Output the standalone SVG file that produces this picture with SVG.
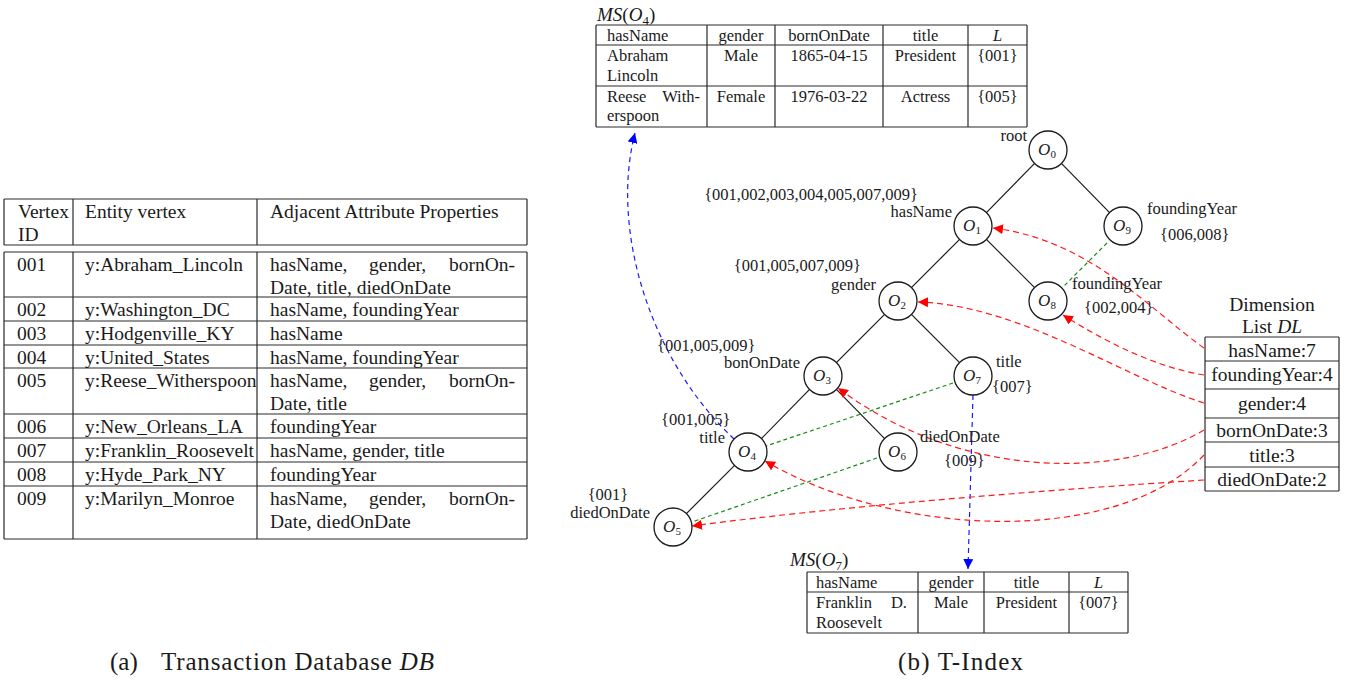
<svg xmlns="http://www.w3.org/2000/svg" width="1357" height="680" viewBox="0 0 1357 680">
  <style>
    text { font-family: "Liberation Serif", "Times New Roman", serif; fill: #1a1a1a; }
    .t20 { font-size: 19.5px; }
    .t16 { font-size: 16.5px; }
    .dl { font-size: 19.5px; text-anchor: middle; }
    .cap { font-size: 25px; }
    .mid { text-anchor: middle; }
    .end { text-anchor: end; }
    .it { font-style: italic; }
    .grid { stroke: #2a2a2a; stroke-width: 1.2; fill: none; }
    .node circle { fill: #fff; stroke: #1a1a1a; stroke-width: 1.3; }
    .node .nm { font-size: 17px; text-anchor: middle; }
    .edge { stroke: #1a1a1a; stroke-width: 1.2; fill: none; }
    .red { stroke: #ff1a1a; stroke-width: 1.2; fill: none; stroke-dasharray: 6 4; }
    .blue { stroke: #1a1aff; stroke-width: 1.2; fill: none; stroke-dasharray: 5 4; }
    .green { stroke: #1a8a1a; stroke-width: 1.2; fill: none; stroke-dasharray: 4 3; }
  </style>
  <defs>
    <marker id="ahRed" markerUnits="userSpaceOnUse" markerWidth="11" markerHeight="10" refX="10" refY="5" orient="auto">
      <path d="M0,0 L10,5 L0,10 z" fill="#ff0000"/>
    </marker>
    <marker id="ahBlue" markerUnits="userSpaceOnUse" markerWidth="11" markerHeight="10" refX="10" refY="5" orient="auto">
      <path d="M0,0 L10,5 L0,10 z" fill="#0000ff"/>
    </marker>
  </defs>

  <rect width="1357" height="680" fill="#ffffff"/>

  <!-- (a) transaction database table -->
  <g id="db-table">
    <path class="grid" d="M4,199 H527 M4,245 H527 M4,252 H527 M4,297 H527 M4,321 H527 M4,345 H527 M4,368 H527 M4,414 H527 M4,438 H527 M4,462 H527 M4,486 H527 M4,539 H527"/>
    <path class="grid" d="M4,199 V245 M73,199 V245 M257,199 V245 M527,199 V245 M4,252 V539 M73,252 V539 M257,252 V539 M527,252 V539"/>
    <g class="t20">
      <text x="18" y="217.5">Vertex</text>
      <text x="18" y="240.5">ID</text>
      <text x="85" y="217.5">Entity vertex</text>
      <text x="270" y="217.5">Adjacent Attribute Properties</text>

      <text x="17" y="270.5">001</text>
      <text x="85" y="270.5">y:Abraham_Lincoln</text>
      <text x="270" y="270.5">hasName,</text>
      <text x="369" y="270.5">gender,</text>
      <text x="515" y="270.5" class="end">bornOn-</text>
      <text x="270" y="293.5">Date, title, diedOnDate</text>

      <text x="17" y="315.5">002</text>
      <text x="85" y="315.5">y:Washington_DC</text>
      <text x="270" y="315.5">hasName, foundingYear</text>

      <text x="17" y="339.5">003</text>
      <text x="85" y="339.5">y:Hodgenville_KY</text>
      <text x="270" y="339.5">hasName</text>

      <text x="17" y="363.5">004</text>
      <text x="85" y="363.5">y:United_States</text>
      <text x="270" y="363.5">hasName, foundingYear</text>

      <text x="17" y="386.5">005</text>
      <text x="85" y="386.5">y:Reese_Witherspoon</text>
      <text x="270" y="386.5">hasName,</text>
      <text x="369" y="386.5">gender,</text>
      <text x="515" y="386.5" class="end">bornOn-</text>
      <text x="270" y="409.5">Date, title</text>

      <text x="17" y="432.5">006</text>
      <text x="85" y="432.5">y:New_Orleans_LA</text>
      <text x="270" y="432.5">foundingYear</text>

      <text x="17" y="456.5">007</text>
      <text x="85" y="456.5">y:Franklin_Roosevelt</text>
      <text x="270" y="456.5">hasName, gender, title</text>

      <text x="17" y="480.5">008</text>
      <text x="85" y="480.5">y:Hyde_Park_NY</text>
      <text x="270" y="480.5">foundingYear</text>

      <text x="17" y="504.5">009</text>
      <text x="85" y="504.5">y:Marilyn_Monroe</text>
      <text x="270" y="504.5">hasName,</text>
      <text x="369" y="504.5">gender,</text>
      <text x="515" y="504.5" class="end">bornOn-</text>
      <text x="270" y="527.5">Date, diedOnDate</text>
    </g>
  </g>

  <!-- materialised set of O4 -->
  <g id="ms-o4">
    <text x="597" y="21" font-size="19px"><tspan class="it">MS</tspan>(<tspan class="it">O</tspan><tspan font-size="13px" dy="4">4</tspan><tspan dy="-4">)</tspan></text>
    <path class="grid" d="M596,25 H1027 M596,45 H1027 M596,86 H1027 M596,127 H1027 M596,25 V127 M707,25 V127 M775,25 V127 M883,25 V127 M968,25 V127 M1027,25 V127"/>
    <g class="t16">
      <text x="607" y="40.5">hasName</text>
      <text x="741" y="40.5" class="mid">gender</text>
      <text x="829" y="40.5" class="mid">bornOnDate</text>
      <text x="925.5" y="40.5" class="mid">title</text>
      <text x="997.5" y="40.5" class="mid it">L</text>

      <text x="607" y="61">Abraham</text>
      <text x="607" y="80.5">Lincoln</text>
      <text x="741" y="61" class="mid">Male</text>
      <text x="829" y="61" class="mid">1865-04-15</text>
      <text x="925.5" y="61" class="mid">President</text>
      <text x="997.5" y="61" class="mid">{001}</text>

      <text x="607" y="101.5">Reese</text>
      <text x="700" y="101.5" class="end">With-</text>
      <text x="607" y="121">erspoon</text>
      <text x="741" y="101.5" class="mid">Female</text>
      <text x="829" y="101.5" class="mid">1976-03-22</text>
      <text x="925.5" y="101.5" class="mid">Actress</text>
      <text x="997.5" y="101.5" class="mid">{005}</text>
    </g>
  </g>

  <!-- materialised set of O7 -->
  <g id="ms-o7">
    <text x="790" y="566" font-size="19px"><tspan class="it">MS</tspan>(<tspan class="it">O</tspan><tspan font-size="13px" dy="4">7</tspan><tspan dy="-4">)</tspan></text>
    <path class="grid" d="M807,572 H1128 M807,592 H1128 M807,633 H1128 M807,572 V633 M918,572 V633 M984,572 V633 M1069,572 V633 M1128,572 V633"/>
    <g class="t16">
      <text x="816" y="587.5">hasName</text>
      <text x="951" y="587.5" class="mid">gender</text>
      <text x="1026.5" y="587.5" class="mid">title</text>
      <text x="1098.5" y="587.5" class="mid it">L</text>

      <text x="816" y="608">Franklin</text>
      <text x="907" y="608" class="end">D.</text>
      <text x="816" y="627.5">Roosevelt</text>
      <text x="951" y="608" class="mid">Male</text>
      <text x="1026.5" y="608" class="mid">President</text>
      <text x="1098.5" y="608" class="mid">{007}</text>
    </g>
  </g>

  <!-- dimension list -->
  <g id="dl">
    <text x="1272" y="311" class="dl">Dimension</text>
    <text x="1272" y="333" class="dl">List <tspan class="it">DL</tspan></text>
    <path class="grid" d="M1205,337 H1339 M1205,361 H1339 M1205,389 H1339 M1205,418 H1339 M1205,442 H1339 M1205,467 H1339 M1205,491 H1339 M1205,337 V491 M1339,337 V491"/>
    <text x="1272" y="357" class="dl">hasName:7</text>
    <text x="1272" y="381" class="dl">foundingYear:4</text>
    <text x="1272" y="410" class="dl">gender:4</text>
    <text x="1272" y="436.5" class="dl">bornOnDate:3</text>
    <text x="1272" y="461.5" class="dl">title:3</text>
    <text x="1272" y="486" class="dl">diedOnDate:2</text>
  </g>

  <!-- tree edges, links and pointers -->
  <g id="connectors">
    <path class="edge" d="M1034.6,163.4 L986.4,212.6"/>
    <path class="edge" d="M1061.4,163.4 L1109.6,212.6"/>
    <path class="edge" d="M959.6,239.4 L911.4,287.6"/>
    <path class="edge" d="M986.4,239.4 L1034.6,287.6"/>
    <path class="edge" d="M884.6,314.4 L836.4,362.6"/>
    <path class="edge" d="M911.4,314.4 L959.6,362.6"/>
    <path class="edge" d="M809.6,389.4 L761.4,438.6"/>
    <path class="edge" d="M836.4,389.4 L884.6,438.6"/>
    <path class="edge" d="M734.6,465.4 L686.4,513.6"/>

    <path class="green" d="M1107,243 L1063,287"/>
    <path class="green" d="M953,383 L766,446"/>
    <path class="green" d="M877,458 L692,522"/>

    <path class="blue" d="M734,439 C650,360 610,230 635,133" marker-end="url(#ahBlue)"/>
    <path class="blue" d="M973,395 L968,569" marker-end="url(#ahBlue)"/>

    <path class="red" d="M1204,348 C1150,310 1090,240 993,228" marker-end="url(#ahRed)"/>
    <path class="red" d="M1204,375 C1160,368 1110,345 1063,315" marker-end="url(#ahRed)"/>
    <path class="red" d="M1204,403 C1125,378 1020,305 918,302" marker-end="url(#ahRed)"/>
    <path class="red" d="M1204,430 C1120,480 960,480 838,388" marker-end="url(#ahRed)"/>
    <path class="red" d="M1204,455 C1120,545 900,540 765,461" marker-end="url(#ahRed)"/>
    <path class="red" d="M1204,480 C1050,490 850,505 692,526" marker-end="url(#ahRed)"/>
  </g>

  <!-- tree nodes with their attribute and id-list labels -->
  <g id="O0" class="node">
    <circle cx="1048" cy="150" r="19"/>
    <text class="nm" x="1047" y="155"><tspan class="it">O</tspan><tspan font-size="11px" dy="3">0</tspan></text>
    <text class="t16 end" x="1027" y="141">root</text>
  </g>
  <g id="O1" class="node">
    <circle cx="973" cy="226" r="19"/>
    <text class="nm" x="972" y="231"><tspan class="it">O</tspan><tspan font-size="11px" dy="3">1</tspan></text>
    <text class="t16 end" x="952" y="217">hasName</text>
    <text class="t16 end" x="918" y="200">{001,002,003,004,005,007,009}</text>
  </g>
  <g id="O9" class="node">
    <circle cx="1123" cy="226" r="19"/>
    <text class="nm" x="1122" y="231"><tspan class="it">O</tspan><tspan font-size="11px" dy="3">9</tspan></text>
    <text class="t16" x="1147" y="214">foundingYear</text>
    <text class="t16" x="1160" y="240">{006,008}</text>
  </g>
  <g id="O2" class="node">
    <circle cx="898" cy="301" r="19"/>
    <text class="nm" x="897" y="306"><tspan class="it">O</tspan><tspan font-size="11px" dy="3">2</tspan></text>
    <text class="t16 end" x="876" y="290">gender</text>
    <text class="t16 end" x="861" y="271">{001,005,007,009}</text>
  </g>
  <g id="O8" class="node">
    <circle cx="1048" cy="301" r="19"/>
    <text class="nm" x="1047" y="306"><tspan class="it">O</tspan><tspan font-size="11px" dy="3">8</tspan></text>
    <text class="t16" x="1072" y="289">foundingYear</text>
    <text class="t16" x="1084" y="313">{002,004}</text>
  </g>
  <g id="O3" class="node">
    <circle cx="823" cy="376" r="19"/>
    <text class="nm" x="822" y="381"><tspan class="it">O</tspan><tspan font-size="11px" dy="3">3</tspan></text>
    <text class="t16 end" x="800" y="368">bonOnDate</text>
    <text class="t16" x="657" y="351">{001,005,009}</text>
  </g>
  <g id="O7" class="node">
    <circle cx="973" cy="376" r="19"/>
    <text class="nm" x="972" y="381"><tspan class="it">O</tspan><tspan font-size="11px" dy="3">7</tspan></text>
    <text class="t16" x="996" y="367">title</text>
    <text class="t16" x="992" y="392">{007}</text>
  </g>
  <g id="O4" class="node">
    <circle cx="748" cy="452" r="19"/>
    <text class="nm" x="747" y="457"><tspan class="it">O</tspan><tspan font-size="11px" dy="3">4</tspan></text>
    <text class="t16 end" x="725" y="443">title</text>
    <text class="t16" x="661" y="425">{001,005}</text>
  </g>
  <g id="O6" class="node">
    <circle cx="898" cy="452" r="19"/>
    <text class="nm" x="897" y="457"><tspan class="it">O</tspan><tspan font-size="11px" dy="3">6</tspan></text>
    <text class="t16" x="920" y="442">diedOnDate</text>
    <text class="t16" x="944" y="466">{009}</text>
  </g>
  <g id="O5" class="node">
    <circle cx="673" cy="527" r="19"/>
    <text class="nm" x="672" y="532"><tspan class="it">O</tspan><tspan font-size="11px" dy="3">5</tspan></text>
    <text class="t16 end" x="650" y="518">diedOnDate</text>
    <text class="t16 mid" x="608" y="500">{001}</text>
  </g>

  <!-- sub-figure captions -->
  <g id="captions">
    <text class="cap" x="110" y="670">(a)</text>
    <text class="cap" x="161" y="670" textLength="273" lengthAdjust="spacing">Transaction Database <tspan class="it">DB</tspan></text>
    <text class="cap" x="898" y="670" textLength="125" lengthAdjust="spacing">(b) T-Index</text>
  </g>
</svg>
